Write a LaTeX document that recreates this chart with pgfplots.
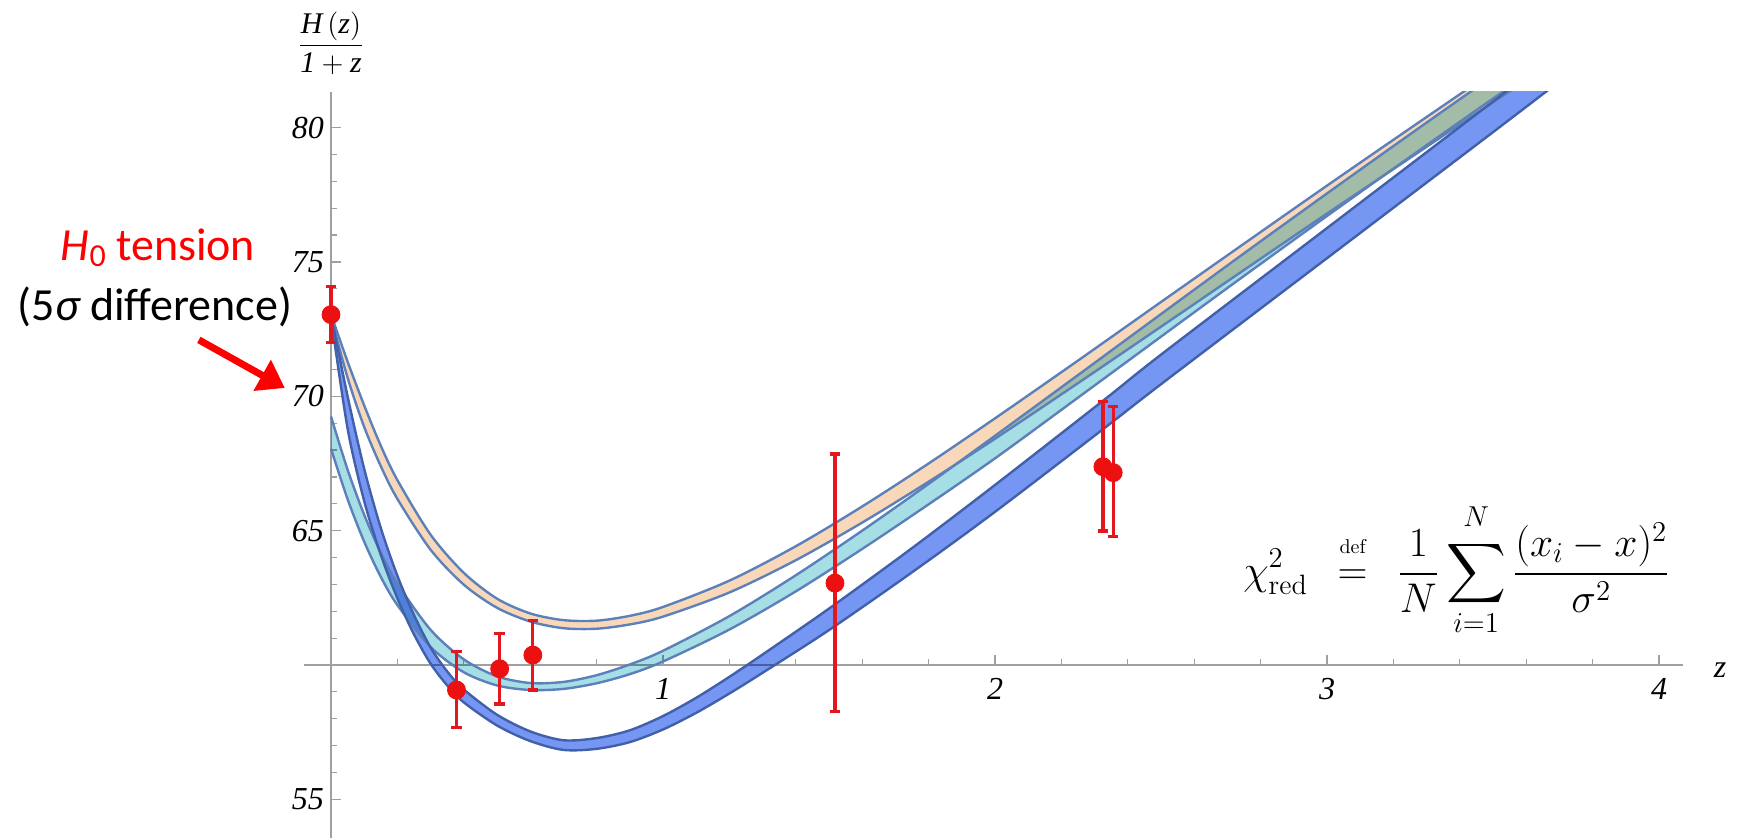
\documentclass[border=0pt]{standalone}
\usepackage{pgfplots}
\usepackage{pgfplotstable}
\pgfplotsset{compat=1.18}
\usepgfplotslibrary{fillbetween}
\usetikzlibrary{arrows.meta}
\usepackage{amsmath}
\usepackage{fontspec}
\newfontfamily\tickfont{Liberation Serif}
\newfontfamily\calibri{Carlito}

\definecolor{peachfill}{RGB}{249,216,186}
\definecolor{cyanfill}{RGB}{166,222,230}
\definecolor{bluefill}{RGB}{118,150,244}
\definecolor{edge}{RGB}{92,128,186}
\definecolor{blueedge}{RGB}{66,96,170}
\definecolor{axisgray}{RGB}{160,160,160}
\definecolor{ptred}{RGB}{236,16,16}
\definecolor{ebred}{RGB}{226,24,30}
\definecolor{annred}{RGB}{255,0,0}

\pgfplotstableread{
z lo hi
0 72.95 73.05
0.05 70.69 71.29
0.1 68.86 69.66
0.15 67.40 68.16
0.2 66.18 66.88
0.3 64.29 64.85
0.4 62.99 63.43
0.5 62.13 62.47
0.6 61.62 61.92
0.7 61.37 61.67
0.8 61.35 61.65
0.9 61.51 61.83
1.0 61.80 62.16
1.2 62.70 63.14
1.4 63.90 64.42
1.6 65.30 65.90
1.8 66.82 67.50
2.0 68.42 69.18
2.25 70.49 71.33
2.5 72.59 73.51
2.75 74.70 75.68
3.0 76.80 77.84
3.25 78.87 79.97
3.5 80.94 82.08
3.75 82.96 84.16
}\peach

\pgfplotstableread{
z lo hi
0 68.05 69.25
0.05 66.17 67.27
0.1 64.59 65.59
0.15 63.28 64.18
0.2 62.23 63.03
0.3 60.67 61.31
0.4 59.73 60.21
0.5 59.24 59.58
0.6 59.07 59.33
0.7 59.11 59.37
0.8 59.32 59.62
0.9 59.66 60.02
1.0 60.13 60.53
1.2 61.32 61.82
1.4 62.74 63.34
1.6 64.32 65.00
1.8 65.98 66.74
2.0 67.69 68.53
2.25 69.95 70.79
2.5 72.22 73.06
2.75 74.48 75.32
3.0 76.71 77.55
3.25 78.91 79.75
3.5 81.08 81.92
3.75 83.21 84.05
}\cyanband

\pgfplotstableread{
z lo hi
0 72.95 73.05
0.05 68.80 70.00
0.1 66.10 67.30
0.15 64.10 65.10
0.2 62.48 63.32
0.25 61.14 61.86
0.3 60.05 60.65
0.35 59.24 59.76
0.4 58.61 59.09
0.5 57.75 58.15
0.6 57.17 57.53
0.7 56.84 57.20
0.8 56.88 57.28
0.9 57.13 57.57
1.0 57.60 58.10
1.1 58.22 58.78
1.2 58.94 59.56
1.3 59.71 60.39
1.5 61.30 62.10
1.75 63.45 64.35
2.0 65.70 66.70
2.33 68.82 69.88
2.5 70.45 71.55
3.0 75.14 76.26
3.5 79.83 80.97
3.7 81.72 82.88
}\blueband

\begin{document}
\begin{tikzpicture}
\begin{axis}[
  scale only axis, width=689.5pt, height=373pt,
  xmin=-0.0813, xmax=4.0723, ymin=53.562, ymax=81.325,
  y coord trafo/.code={\pgfmathparse{#1-60}},
  y coord inv trafo/.code={\pgfmathparse{#1+60}},
  axis lines=middle,
  axis line style={-, draw=axisgray, line width=0.8pt},
  xtick={0,1,2,3,4}, xticklabels={,1,2,3,4},
  ytick={55,60,65,70,75,80}, yticklabels={55,,65,70,75,80},
  minor x tick num=4, minor y tick num=4,
  tick style={draw=axisgray, line width=0.6pt},
  major tick length=5pt, minor tick length=3pt,
  tick align=inside,
  ticklabel style={font=\tickfont\itshape\fontsize{16}{16}\selectfont},
  xticklabel style={yshift=-3pt},
  /pgf/number format/assume math mode=true,
  clip mode=individual,
]
% peach band
\addplot[name path=pU, draw=edge, line width=1.2pt, smooth] table[x=z,y=hi]{\peach};
\addplot[name path=pL, draw=edge, line width=1.2pt, smooth] table[x=z,y=lo]{\peach};
\addplot[fill=peachfill, draw=none] fill between[of=pU and pL];
% cyan band
\addplot[name path=cU, draw=edge, line width=1.2pt, smooth] table[x=z,y=hi]{\cyanband};
\addplot[name path=cL, draw=edge, line width=1.2pt, smooth] table[x=z,y=lo]{\cyanband};
\addplot[fill=cyanfill, draw=none, blend mode=multiply] fill between[of=cU and cL];
% blue band
\addplot[name path=bU, draw=blueedge, line width=1.2pt, smooth] table[x=z,y=hi]{\blueband};
\addplot[name path=bL, draw=blueedge, line width=1.2pt, smooth] table[x=z,y=lo]{\blueband};
\addplot[fill=bluefill, draw=none, blend mode=multiply] fill between[of=bU and bL];
% error bars
\addplot[ebred, line width=1.6pt, mark=-, mark size=2.6pt, mark options={line width=1.6pt}] coordinates {(0,72.00) (0,74.08)};
\addplot[ebred, line width=1.6pt, mark=-, mark size=2.6pt, mark options={line width=1.6pt}] coordinates {(0.378,57.67) (0.378,60.50)};
\addplot[ebred, line width=1.6pt, mark=-, mark size=2.6pt, mark options={line width=1.6pt}] coordinates {(0.508,58.55) (0.508,61.18)};
\addplot[ebred, line width=1.6pt, mark=-, mark size=2.6pt, mark options={line width=1.6pt}] coordinates {(0.608,59.07) (0.608,61.67)};
\addplot[ebred, line width=1.6pt, mark=-, mark size=2.6pt, mark options={line width=1.6pt}] coordinates {(1.518,58.26) (1.518,67.85)};
\addplot[ebred, line width=1.6pt, mark=-, mark size=2.6pt, mark options={line width=1.6pt}] coordinates {(2.325,64.99) (2.325,69.80)};
\addplot[ebred, line width=1.6pt, mark=-, mark size=2.6pt, mark options={line width=1.6pt}] coordinates {(2.356,64.78) (2.356,69.61)};
% data points
\addplot[only marks, mark=*, mark size=4.5pt, color=ptred] coordinates {
(0,73.04) (0.378,59.07) (0.508,59.86) (0.608,60.37) (1.518,63.05) (2.325,67.38) (2.356,67.16)};
% labels and annotations
\node at (axis cs:0,83.15) {\tickfont\fontsize{15}{15}\selectfont $\dfrac{\textit{H}\,(\textit{z})}{\textit{1}+\textit{z}}$};
\node at (axis cs:4.184,59.81) {\tickfont\itshape\fontsize{16}{16}\selectfont z};
\node[text=annred] at (axis cs:-0.521,75.52) {\calibri\fontsize{23}{23}\selectfont {\itshape H}\raisebox{-0.3ex}{\fontsize{16}{16}\selectfont 0} tension};
\node at (axis cs:-0.530,73.32) {\calibri\fontsize{23}{23}\selectfont (5{\itshape σ} difference)};
\draw[annred, line width=3.5pt, -{Triangle[length=13pt,width=17pt]}] (axis cs:-0.398,72.10) -- (axis cs:-0.139,70.31);
\node at (axis cs:3.39,63.54) {\fontsize{20}{24}\selectfont $\displaystyle \chi^2_{\mathrm{red}}\,\; \overset{\raisebox{4pt}{$\scriptscriptstyle\mathrm{def}$}}{=}\,\; \frac{1}{N}\sum_{i=1}^{\raisebox{3pt}{$\scriptstyle N$}}\frac{(x_i-x)^2}{\sigma^2}$};
\coordinate (bbll) at (axis cs:-0.997,53.562);
\coordinate (bbur) at (axis cs:4.244,84.749);
\end{axis}
\pgfresetboundingbox
\path[use as bounding box] (bbll) rectangle (bbur);
\end{tikzpicture}
\end{document}
